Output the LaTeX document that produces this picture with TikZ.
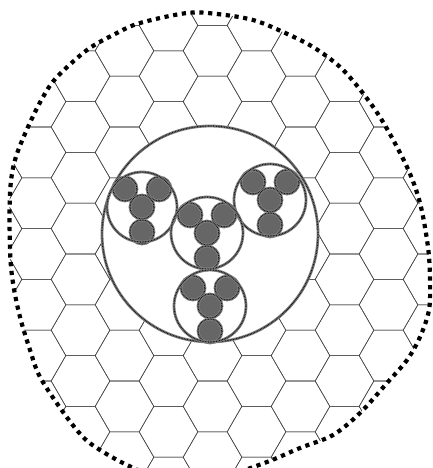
\documentclass[tikz,border=0pt]{standalone}
\usetikzlibrary{calc}
\tikzset{
  hexline/.style={draw=black!72, line width=0.55pt, line join=round},
  blobline/.style={draw=black, line width=4.2pt, dash pattern=on 4.2pt off 4.6pt},
  fuzzyback/.style={draw=black!50, line width=2.8pt},
  fuzzyfront/.style={draw=black!92, line width=1.2pt, dash pattern=on 0.8pt off 0.8pt},
  wirefill/.style={fill=black!60},
}
\newcommand\myring[3]{%
  \draw[fuzzyback] (#1,#2) circle (#3);
  \draw[fuzzyfront] (#1,#2) circle (#3);
}
\newcommand\mybundle[3]{%
  \foreach \dx/\dy in {-17/-18,17/-18,0/0,0/25}{
    \fill[wirefill] ({#1+\dx},{#2+\dy}) circle (12);
  }
  \foreach \dx/\dy in {-17/-18,17/-18,0/0,0/25}{
    \myring{{#1+\dx}}{{#2+\dy}}{12}
  }
  \myring{#1}{#2}{#3}
}
\begin{document}
\begin{tikzpicture}[x=1pt,y=-1pt]
\useasboundingbox (0,0) rectangle (433,468);
\fill[white] (0,0) rectangle (433,468);
\clip (0,0) rectangle (433,468);
\def\blobpath{plot[smooth cycle, tension=0.55] coordinates {
 (187,13) (217,14) (253,20) (283,32) (313,47) (340,67) (362,92) (383,122)
 (407,167) (420,203) (428,247) (430,280) (429,310) (420,337) (407,360)
 (387,383) (360,413) (333,435) (300,448) (267,462) (230,474) (190,478)
 (150,474) (125,464) (100,450) (83,437) (63,412) (40,377) (30,350)
 (20,317) (13,283) (10,250) (10,193) (15,160) (28,127) (43,97) (57,77)
 (87,50) (115,34) (140,23)}}
% hexagonal grid
\begin{scope}
  \clip \blobpath;
  \foreach \i in {-5,...,7}{
    \foreach \k in {-1,...,10}{
      \pgfmathsetmacro\xc{168.5+44*\i}
      \pgfmathsetmacro\yc{50.8*\k+25.4*(1-mod(abs(\i),2))}
      \draw[hexline] ({\xc-29.33},\yc) -- ++(14.67,-25.4) -- ++(29.33,0)
        -- ++(14.67,25.4) -- ++(-14.67,25.4) -- ++(-29.33,0) -- cycle;
    }
  }
\end{scope}
% dotted outer boundary
\draw[blobline] \blobpath;
% big circle
\fill[white] (210,234) circle (108);
\myring{210}{234}{108}
% bundles
\mybundle{142}{207}{35}
\mybundle{270}{200}{36}
\mybundle{207}{233}{36}
\mybundle{210}{306}{36}
\end{tikzpicture}
\end{document}
